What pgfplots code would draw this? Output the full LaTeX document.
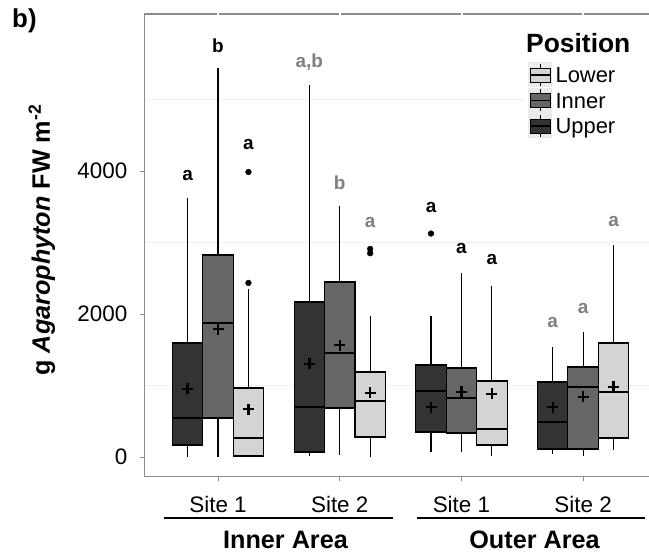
\documentclass[border=0pt]{standalone}
\usepackage{pgfplots}
\pgfplotsset{compat=1.18}
\usepackage{fontspec}
\setmainfont{Liberation Sans}
\definecolor{cUpper}{HTML}{333333}
\definecolor{cInner}{HTML}{666666}
\definecolor{cLower}{HTML}{D4D4D4}
\definecolor{lettergray}{HTML}{808080}
\definecolor{axgray}{HTML}{8C8C8C}
\definecolor{gridgray}{HTML}{F0F0F0}
\definecolor{keybg}{HTML}{EBEBEB}
\newcommand\lfont{\bfseries\fontsize{19}{21}\selectfont}
% one box: #1 colour, #2 position, #3 lower whisker, #4 q1, #5 median, #6 q3, #7 upper whisker
\newcommand\onebox[7]{%
  \addplot[black, line width=1.1bp, forget plot] coordinates {(#2,#3) (#2,#7)};
  \addplot[draw=black, fill=#1, line width=1.1bp, line join=miter, line cap=rect, forget plot]
    coordinates {(#2-0.125,#4) (#2+0.125,#4) (#2+0.125,#6) (#2-0.125,#6) (#2-0.125,#4)};
  \addplot[black, line width=2.4bp, forget plot] coordinates {(#2-0.125,#5) (#2+0.125,#5)};
}
\newcommand\keyglyph[2]{% #1 colour, #2 centre y
  \fill[keybg] (383bp,#2bp-12.5bp) rectangle (407bp,#2bp+12.5bp);
  \draw[black, line width=0.9bp] (395bp,#2bp-11bp) -- (395bp,#2bp+11bp);
  \draw[black, line width=0.9bp, fill=#1] (385bp,#2bp-7bp) rectangle (405bp,#2bp+7bp);
  \draw[black, line width=1.4bp] (385bp,#2bp) -- (405bp,#2bp);
}
\begin{document}
\begin{tikzpicture}
\begin{axis}[
  scale only axis, width=504bp, height=462.5bp,
  xmin=0.4, xmax=4.541, ymin=-273, ymax=6196,
  clip=false,
  separate axis lines,
  axis x line*=bottom, axis y line*=left,
  axis line style={axgray, line width=1bp, -},
  xtick={1,2,3,4}, xticklabels={Site 1,Site 2,Site 1,Site 2},
  ytick={0,2000,4000},
  minor ytick={1000,3000,5000}, yminorgrids=true,
  minor grid style={gridgray, line width=0.9bp},
  minor tick style={draw=none},
  tick align=outside, major tick length=4.5bp,
  tick style={axgray, line width=0.9bp},
  tick pos=left,
  /pgf/number format/assume math mode=true,
  /pgf/number format/1000 sep={},
  tick label style={font=\fontsize{22.5}{24}\selectfont, inner sep=0pt},
  xticklabel style={anchor=north, yshift=-15.5bp},
  yticklabel style={anchor=east, xshift=-13bp},
  every axis y label/.style={at={(axis description cs:-0.2044,0.5114)}, anchor=center, rotate=90, inner sep=0pt, font=\bfseries\fontsize{25.3}{27}\selectfont},
  ylabel={g \textit{Agarophyton} FW m\textsuperscript{-2}},
]
% ---- Inner Area, Site 1
\onebox{cUpper}{0.75}{0}{168}{545}{1594}{3622}
\onebox{cInner}{1.00}{0}{545}{1874}{2825}{5440}
\onebox{cLower}{1.25}{0}{14}{266}{965}{2350}
% ---- Inner Area, Site 2
\onebox{cUpper}{1.75}{10}{70}{699}{2168}{5203}
\onebox{cInner}{2.00}{28}{685}{1455}{2448}{3510}
\onebox{cLower}{2.25}{0}{280}{783}{1189}{1972}
% ---- Outer Area, Site 1
\onebox{cUpper}{2.75}{70}{350}{923}{1287}{1972}
\onebox{cInner}{3.00}{70}{336}{825}{1245}{2573}
\onebox{cLower}{3.25}{14}{168}{392}{1063}{2392}
% ---- Outer Area, Site 2
\onebox{cUpper}{3.75}{42}{112}{490}{1049}{1538}
\onebox{cInner}{4.00}{14}{112}{979}{1259}{1748}
\onebox{cLower}{4.25}{98}{266}{909}{1594}{2965}

% means
\addplot[only marks, mark=+, mark size=5.5bp, mark options={line width=2.4bp, black}] coordinates {
 (0.75,951) (1.00,1790) (1.25,671)
 (1.75,1301) (2.00,1566) (2.25,895)
 (2.75,699) (3.00,909) (3.25,881)
 (3.75,699) (4.00,839) (4.25,979)};
% outliers
\addplot[only marks, mark=*, mark size=2.9bp, mark options={black, fill=black}] coordinates {
 (1.25,2434) (1.25,3986) (2.25,2850) (2.25,2910) (2.75,3125)};

% significance letters
\node[font=\lfont, inner sep=0pt] at (axis cs:0.75,3944) {a};
\node[font=\lfont, inner sep=0pt] at (axis cs:1.00,5748) {b};
\node[font=\lfont, inner sep=0pt] at (axis cs:1.25,4364) {a};
\node[font=\lfont, inner sep=0pt, text=lettergray] at (axis cs:1.75,5524) {a,b};
\node[font=\lfont, inner sep=0pt, text=lettergray] at (axis cs:2.00,3832) {b};
\node[font=\lfont, inner sep=0pt, text=lettergray] at (axis cs:2.25,3273) {a};
\node[font=\lfont, inner sep=0pt] at (axis cs:2.75,3483) {a};
\node[font=\lfont, inner sep=0pt] at (axis cs:3.00,2909) {a};
\node[font=\lfont, inner sep=0pt] at (axis cs:3.25,2769) {a};
\node[font=\lfont, inner sep=0pt, text=lettergray] at (axis cs:3.75,1874) {a};
\node[font=\lfont, inner sep=0pt, text=lettergray] at (axis cs:4.00,2070) {a};
\node[font=\lfont, inner sep=0pt, text=lettergray] at (axis cs:4.25,3287) {a};
\end{axis}
% top border with small gaps at tick positions
\draw[axgray, line width=1.3bp] (-1bp,462.5bp) -- (505bp,462.5bp);
\foreach \xx in {73,195,317,438} \draw[white, line width=1.6bp] (\xx bp,461bp) -- (\xx bp,464bp);
% legend
\fill[white] (380bp,336bp) rectangle (504bp,416bp);
\node[anchor=base west, inner sep=0pt, font=\bfseries\fontsize{26.5}{28}\selectfont] at (381bp,423.5bp) {Position};
\keyglyph{cLower}{401.5}
\keyglyph{cInner}{376}
\keyglyph{cUpper}{350.5}
\node[anchor=base west, inner sep=0pt, font=\fontsize{22}{24}\selectfont] at (410.4bp,393.6bp) {Lower};
\node[anchor=base west, inner sep=0pt, font=\fontsize{22}{24}\selectfont] at (410.4bp,368.1bp) {Inner};
\node[anchor=base west, inner sep=0pt, font=\fontsize{22}{24}\selectfont] at (410.4bp,342.6bp) {Upper};
% panel tag
\node[anchor=north west, inner sep=0pt, font=\bfseries\fontsize{26}{28}\selectfont] at (-133bp,467.5bp) {b)};
% area brackets
\draw[black, line width=1.3bp] (19bp,-41.5bp) -- (248bp,-41.5bp);
\draw[black, line width=1.3bp] (272bp,-41.5bp) -- (500bp,-41.5bp);
\node[anchor=base, inner sep=0pt, font=\bfseries\fontsize{25.3}{27}\selectfont] at (140.5bp,-71.5bp) {Inner Area};
\node[anchor=base, inner sep=0pt, font=\bfseries\fontsize{25.3}{27}\selectfont] at (389.5bp,-71.5bp) {Outer Area};
\pgfresetboundingbox
\useasboundingbox (-145bp,-80.5bp) rectangle (504bp,476.5bp);
\end{tikzpicture}
\end{document}
